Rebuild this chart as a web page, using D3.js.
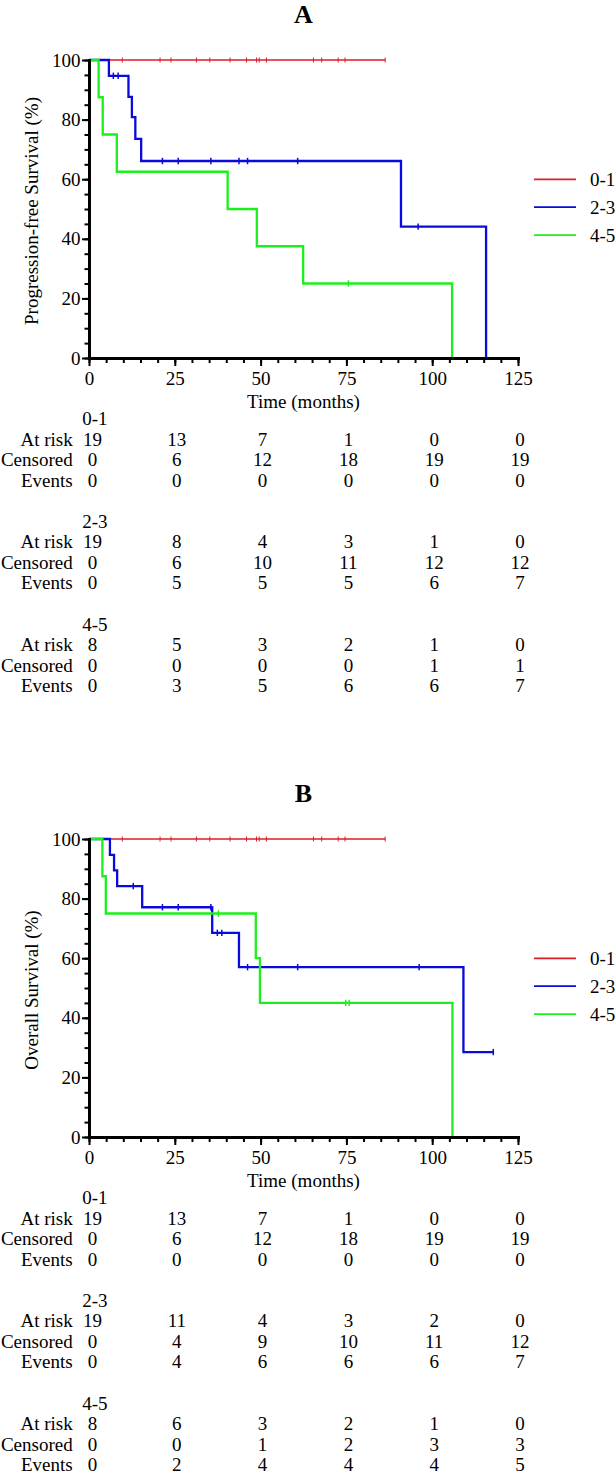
<!DOCTYPE html>
<html><head><meta charset="utf-8">
<script src="https://cdn.jsdelivr.net/npm/d3@7"></script>
<style>
body{margin:0;background:#fff}
svg{display:block}
</style>
</head><body>
<svg id="chart" width="616" height="1472" font-family="'Liberation Serif', 'Times New Roman', Times, serif"></svg>
<script>
// ---------- data ----------
const groups = ["0-1", "2-3", "4-5"];
const colors = ["#dc1e26", "#0a0adc", "#1cf01c"];
const timeTicks = [0, 25, 50, 75, 100, 125];
const survTicks = [0, 20, 40, 60, 80, 100];
const rowLabels = ["At risk", "Censored", "Events"];

// Kaplan-Meier step functions: step start times and survival (%) from that time on
const pfsLowTimes = [0];
const pfsLowSurv = [100];
const pfsLowEnd = 86.3;
const pfsLowCensor = [9.7, 20.7, 23.9, 31.3, 35.2, 41.1, 45.9, 48.8, 49.6, 51.7, 65.4, 67.8, 72.6, 74.6, 86.3];

const pfsMidTimes = [0, 5.8, 11.5, 12.5, 13.5, 15.2, 90.9, 115.7];
const pfsMidSurv = [100, 94.7, 87.6, 80.8, 73.5, 66.1, 44.1, 0];
const pfsMidEnd = 115.7;
const pfsMidCensor = [7.1, 8.5, 21.4, 26.0, 35.5, 43.7, 46.2, 60.8, 95.9];

const pfsHighTimes = [0, 2.8, 4.0, 8.1, 40.4, 48.9, 62.4, 105.8];
const pfsHighSurv = [100, 87.5, 75, 62.5, 50, 37.5, 25, 0];
const pfsHighEnd = 105.8;
const pfsHighCensor = [75.6];

const osLowTimes = [0];
const osLowSurv = [100];
const osLowEnd = 86.3;
const osLowCensor = [9.7, 20.7, 23.9, 31.3, 35.2, 41.1, 45.9, 48.8, 49.6, 51.7, 65.4, 67.8, 72.6, 74.6, 86.3];

const osMidTimes = [0, 6.1, 7.3, 8.2, 15.5, 35.9, 43.7, 109.1];
const osMidSurv = [100, 94.7, 89.5, 84.2, 77.1, 68.5, 57.0, 28.5];
const osMidEnd = 117.8;
const osMidCensor = [12.9, 21.4, 26.0, 35.5, 37.4, 38.7, 46.2, 60.8, 96.2, 117.8];

const osHighTimes = [0, 3.9, 4.9, 48.6, 49.8, 105.9];
const osHighSurv = [100, 87.5, 75, 60, 45, 0];
const osHighEnd = 105.9;
const osHighCensor = [37.7, 74.8, 75.8];

// numbers-at-risk tables (columns = timeTicks)
const pfsAtRisk   = [[19,13,7,1,0,0],[19,8,4,3,1,0],[8,5,3,2,1,0]];
const pfsCensored = [[0,6,12,18,19,19],[0,6,10,11,12,12],[0,0,0,0,1,1]];
const pfsEvents   = [[0,0,0,0,0,0],[0,5,5,5,6,7],[0,3,5,6,6,7]];

const osAtRisk   = [[19,13,7,1,0,0],[19,11,4,3,2,0],[8,6,3,2,1,0]];
const osCensored = [[0,6,12,18,19,19],[0,4,9,10,11,12],[0,0,1,2,3,3]];
const osEvents   = [[0,0,0,0,0,0],[0,4,6,6,6,7],[0,2,4,4,4,5]];

// ---------- layout ----------
const FF = "'Liberation Serif', 'Times New Roman', Times, serif";
const FONT = 19;
const panelOffsets = [0, 779];
const panels = [
  {title: "A", ylab: "Progression-free Survival (%)",
   curves: [
     {t: pfsLowTimes, s: pfsLowSurv, end: pfsLowEnd, c: pfsLowCensor},
     {t: pfsMidTimes, s: pfsMidSurv, end: pfsMidEnd, c: pfsMidCensor},
     {t: pfsHighTimes, s: pfsHighSurv, end: pfsHighEnd, c: pfsHighCensor}],
   table: [pfsAtRisk, pfsCensored, pfsEvents]},
  {title: "B", ylab: "Overall Survival (%)",
   curves: [
     {t: osLowTimes, s: osLowSurv, end: osLowEnd, c: osLowCensor},
     {t: osMidTimes, s: osMidSurv, end: osMidEnd, c: osMidCensor},
     {t: osHighTimes, s: osHighSurv, end: osHighEnd, c: osHighCensor}],
   table: [osAtRisk, osCensored, osEvents]}
];

const svg = d3.select("#chart");
const x = d3.scaleLinear().domain([0, 125]).range([89, 518]);
const y = d3.scaleLinear().domain([0, 100]).range([358, 60]);
const lineW = [1.3, 2.3, 2.3];

function survAt(cv, t) {
  let v = cv.s[0];
  for (let i = 0; i < cv.t.length; i++) if (cv.t[i] <= t) v = cv.s[i];
  return v;
}
function txt(sel) {
  return sel.append("text").attr("font-family", FF).attr("font-size", FONT).attr("fill", "#000");
}

panels.forEach((p, pi) => {
  const g = svg.append("g").attr("transform", `translate(0,${panelOffsets[pi]})`);

  // title
  txt(g).attr("x", 303.5).attr("y", 22.5).attr("text-anchor", "middle")
    .attr("font-size", 26).attr("font-weight", "bold").text(p.title);

  // curves
  const line = d3.line().x(d => x(d[0])).y(d => y(d[1])).curve(d3.curveStepAfter);
  p.curves.forEach((cv, ci) => {
    const pts = cv.t.map((t, i) => [t, cv.s[i]]);
    const last = pts[pts.length - 1];
    if (last[0] < cv.end) pts.push([cv.end, last[1]]);
    g.append("path").attr("d", line(pts)).attr("fill", "none")
      .attr("stroke", colors[ci]).attr("stroke-width", lineW[ci]);
    const h = ci === 0 ? 2.5 : 3.2;
    g.selectAll(null).data(cv.c).enter().append("line")
      .attr("x1", d => x(d)).attr("x2", d => x(d))
      .attr("y1", d => y(survAt(cv, d)) - h).attr("y2", d => y(survAt(cv, d)) + h)
      .attr("stroke", colors[ci]).attr("stroke-width", ci === 0 ? 1 : 1.5);
  });

  // axes
  const xMinor = g.append("g").attr("transform", `translate(0,${y(0)})`)
    .call(d3.axisBottom(x).tickValues(d3.range(0, 126, 5)).tickSize(5).tickSizeOuter(0).tickFormat(""));
  const xMajor = g.append("g").attr("transform", `translate(0,${y(0)})`)
    .call(d3.axisBottom(x).tickValues(timeTicks).tickSize(8).tickSizeOuter(0).tickPadding(5.5));
  const yMinor = g.append("g").attr("transform", `translate(${x(0)},0)`)
    .call(d3.axisLeft(y).tickValues(d3.range(0, 101, 5)).tickSize(4.5).tickSizeOuter(0).tickFormat(""));
  const yMajor = g.append("g").attr("transform", `translate(${x(0)},0)`)
    .call(d3.axisLeft(y).tickValues(survTicks).tickSize(7).tickSizeOuter(0).tickPadding(1.5));
  [xMinor, xMajor, yMinor, yMajor].forEach(a => {
    a.attr("font-family", FF).attr("font-size", FONT);
    a.selectAll(".tick line").attr("stroke", "#000").attr("stroke-width", 2);
    a.selectAll(".domain").attr("stroke", "#000").attr("stroke-width", 3).attr("stroke-linecap", "square");
    a.selectAll("text").attr("fill", "#000").attr("font-family", FF).attr("font-size", FONT);
  });

  // axis titles
  txt(g).attr("x", 303.5).attr("y", 407.5).attr("text-anchor", "middle").text("Time (months)");
  txt(g).attr("transform", "translate(38,211) rotate(-90)").attr("text-anchor", "middle").text(p.ylab);

  // legend
  groups.forEach((name, i) => {
    const ly = 179.3 + i * 27.9;
    g.append("line").attr("x1", 534).attr("x2", 576).attr("y1", ly).attr("y2", ly)
      .attr("stroke", colors[i]).attr("stroke-width", 1.7);
    txt(g).attr("x", 590).attr("y", ly + 6.7).text(name);
  });

  // risk table
  groups.forEach((name, gi) => {
    const gy = 425 + gi * 102.8;
    txt(g).attr("x", 82.3).attr("y", gy).text(name);
    rowLabels.forEach((rl, ri) => {
      const ry = gy + 20.5 * (ri + 1);
      txt(g).attr("x", 72.7).attr("y", ry).attr("text-anchor", "end").text(rl);
      g.selectAll(null).data(p.table[ri][gi]).enter().append("text")
        .attr("font-family", FF).attr("font-size", FONT).attr("fill", "#000")
        .attr("x", (d, k) => x(timeTicks[k]) + (k === 0 ? 3.5 : 2))
        .attr("y", ry).attr("text-anchor", "middle")
        .text(d => d);
    });
  });
});
</script>
</body></html>
